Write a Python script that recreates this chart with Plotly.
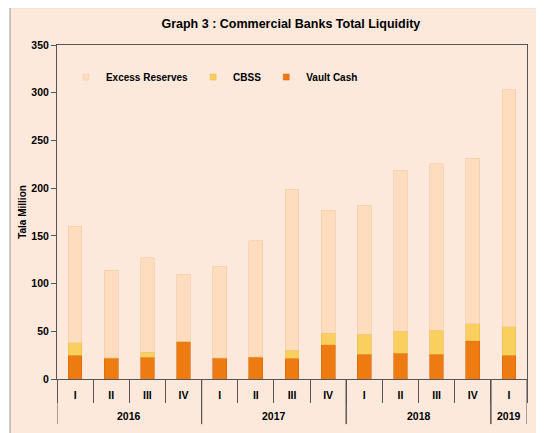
import plotly.graph_objects as go

# quarterly data, Tala million
years = ['2016'] * 4 + ['2017'] * 4 + ['2018'] * 4 + ['2019']
quarters = ['I', 'II', 'III', 'IV'] * 3 + ['I']
vault_cash = [25, 21.5, 23, 39, 22, 23, 22, 36, 26, 27, 26, 40, 25]
cbss = [13, 1, 5, 0.5, 0.5, 0.5, 8, 12, 21, 23, 25, 18, 30]
excess_reserves = [122, 91.5, 99, 70.5, 95.5, 121.5, 169, 129, 135, 168.5, 174.5, 173.5, 248]

FONT = 'Liberation Sans Narrow, Arial Narrow, Liberation Sans, sans-serif'
AXIS = '#555'
colors = {'Vault Cash': ('#EE7A12', '#D9650A'),
          'CBSS': ('#F9CF5E', '#E8B94A'),
          'Excess Reserves': ('#FDDDBD', '#F0C9A4')}

# unique category per bar, shown with the quarter label only
cats = [f'{y} {q}' for y, q in zip(years, quarters)]

fig = go.Figure()
for name, vals in [('Vault Cash', vault_cash), ('CBSS', cbss), ('Excess Reserves', excess_reserves)]:
    fill, edge = colors[name]
    fig.add_trace(go.Bar(x=cats, y=vals, name=name, width=0.38, showlegend=False,
                         marker=dict(color=fill, line=dict(color=edge, width=0.6))))
    # small square legend marker like the original
    fig.add_trace(go.Scatter(x=[None], y=[None], mode='markers', name=name,
                             marker=dict(symbol='square', size=6, color=fill,
                                         line=dict(color=edge, width=0.5))))

# page body has an 8px margin, so margins are offset by 8px
fig.update_layout(
    barmode='stack',
    width=544, height=433,
    margin=dict(l=49, r=25, t=37, b=62, autoexpand=False),
    paper_bgcolor='white',
    plot_bgcolor='white',
    font=dict(family=FONT, size=10.5, color='black', weight='bold'),
    title=dict(text='Graph 3 : Commercial Banks Total Liquidity', x=0.52, xanchor='center',
               y=0.963, yanchor='middle', font=dict(family=FONT, size=12.5, weight='bold')),
    legend=dict(orientation='h', traceorder='reversed', x=0.019, y=0.904, xanchor='left', yanchor='middle',
                bgcolor='rgba(0,0,0,0)', font=dict(size=10, weight='bold'), itemwidth=30),
)

fig.update_yaxes(range=[0, 350], dtick=50, ticks='outside', ticklen=5, tickcolor=AXIS,
                 showgrid=False, showline=True, linecolor=AXIS, linewidth=1, mirror=True,
                 zeroline=False, title=dict(text='Tala Million', standoff=2,
                                            font=dict(size=10, weight='bold')))
fig.update_xaxes(type='category', tickvals=cats, ticktext=quarters, ticks='outside',
                 tickson='boundaries', ticklen=23, tickcolor=AXIS, ticklabelstandoff=6,
                 showline=True, linecolor=AXIS, mirror=True, showgrid=False,
                 range=[-0.5, len(cats) - 0.5])

# year labels and long year dividers under the quarter labels
groups = []
for i, y in enumerate(years):
    if groups and groups[-1][0] == y:
        groups[-1][2] = i
    else:
        groups.append([y, i, i])
for y, first, last in groups:
    fig.add_annotation(x=(first + last) / 2, y=-0.111, xref='x', yref='paper', text=y,
                       showarrow=False, yanchor='middle', font=dict(size=10.5, weight='bold'))
    for edge in (first - 0.5, last + 0.5):
        fig.add_shape(type='line', xref='x', yref='paper', x0=edge, x1=edge, y0=0, y1=-0.135,
                      line=dict(color=AXIS, width=1))

# peach chart frame
fig.add_shape(type='rect', xref='paper', yref='paper', x0=-0.1, x1=1.06, y0=-0.2, y1=1.112,
              fillcolor='#FCE9DC', line=dict(color='#999', width=1), layer='below')

fig.write_html('out.html')
